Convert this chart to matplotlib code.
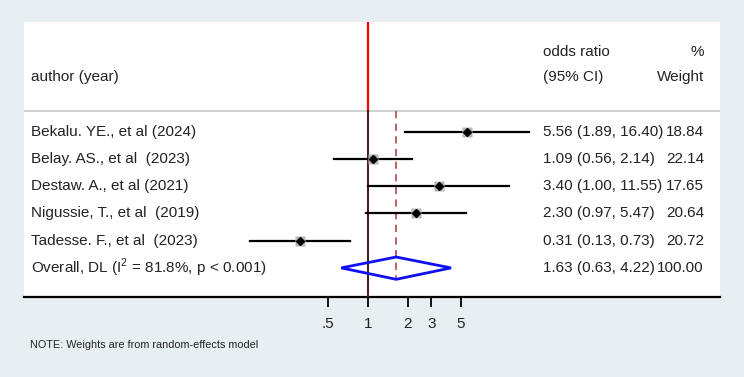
import numpy as np
import matplotlib.pyplot as plt
from matplotlib.patches import Polygon
import matplotlib.transforms as mtransforms

plt.rcParams['font.family'] = ['Liberation Sans', 'DejaVu Sans']
plt.rcParams['mathtext.fontset'] = 'custom'
plt.rcParams['mathtext.rm'] = 'Liberation Sans'

# study data
authors = ['Bekalu. YE., et al (2024)', 'Belay. AS., et al  (2023)',
           'Destaw. A., et al (2021)', 'Nigussie, T., et al  (2019)',
           'Tadesse. F., et al  (2023)']
odds = [5.56, 1.09, 3.40, 2.30, 0.31]
lower = [1.89, 0.56, 1.00, 0.97, 0.13]
upper = [16.40, 2.14, 11.55, 5.47, 0.73]
weights = [18.84, 22.14, 17.65, 20.64, 20.72]

overall_label = 'Overall, DL (I$^{2}$ = 81.8%, p < 0.001)'
overall_or = 1.63
overall_lo = 0.63
overall_hi = 4.22
overall_w = 100.00

tick_vals = [0.5, 1, 2, 3, 5]
tick_labels = ['.5', '1', '2', '3', '5']

bg = '#e8eff2'
txt = '#222222'
W, H = 744, 377

fig = plt.figure(figsize=(W / 100, H / 100), dpi=100, facecolor=bg)
ax = fig.add_axes([24 / W, 1 - 297 / H, 696 / W, 275 / H])
ax.set_facecolor('white')
ax.set_xscale('log')
ax.set_xlim(np.exp(-5.96), np.exp(6.10))
ax.set_ylim(7.07, -3.04)

rows = np.arange(1, len(authors) + 1)
hdr_y = 0.23
overall_row = len(authors) + 1

# header separator
ax.axhline(hdr_y, color='#c8c8c8', lw=1.2)

# null line: red above header, dark below
ax.plot([1, 1], [-3.04, hdr_y], color='red', lw=1.6, zorder=3)
ax.plot([1, 1], [hdr_y, 7.07], color='#4a1515', lw=1.4, zorder=3)

# overall dashed line
ax.plot([overall_or, overall_or], [hdr_y, overall_row + 0.42],
        color='#b5545c', lw=1.3, ls=(0, (4, 3)), zorder=2)

# study CIs, boxes and point estimates
for r, o, lo, hi, w in zip(rows, odds, lower, upper, weights):
    ax.plot([lo, hi], [r, r], color='black', lw=1.6, zorder=4)
    ax.plot(o, r, marker='s', ms=7.5 * np.sqrt(w / 20), color='#b8b8b8',
            mec='none', zorder=4.5)
    ax.plot(o, r, marker='D', ms=4, color='black', zorder=5)

# overall diamond
diamond = Polygon([[overall_lo, overall_row], [overall_or, overall_row - 0.4],
                   [overall_hi, overall_row], [overall_or, overall_row + 0.42]],
                  closed=True, fill=False, edgecolor='#1010ee', lw=2, zorder=5)
ax.add_patch(diamond)

# text columns
tr = mtransforms.blended_transform_factory(ax.transAxes, ax.transData)
x_auth = (31 - 24) / 696
x_ci = (543 - 24) / 696
x_w = (704 - 24) / 696
fs = 11

ax.text(x_auth, -1, 'author (year)', transform=tr, va='center', fontsize=fs, color=txt)
ax.text(x_ci, -1.95, 'odds ratio', transform=tr, va='center', fontsize=fs, color=txt)
ax.text(x_ci, -1, '(95% CI)', transform=tr, va='center', fontsize=fs, color=txt)
ax.text(x_w, -1.95, '%', transform=tr, va='center', ha='right', fontsize=fs, color=txt)
ax.text(x_w, -1, 'Weight', transform=tr, va='center', ha='right', fontsize=fs, color=txt)

for r, a, o, lo, hi, w in zip(rows, authors, odds, lower, upper, weights):
    ax.text(x_auth, r, a, transform=tr, va='center', fontsize=fs, color=txt)
    ax.text(x_ci, r, '%.2f (%.2f, %.2f)' % (o, lo, hi), transform=tr,
            va='center', fontsize=fs, color=txt)
    ax.text(x_w, r, '%.2f' % w, transform=tr, va='center', ha='right',
            fontsize=fs, color=txt)

ax.text(x_auth, overall_row, overall_label, transform=tr, va='center', fontsize=fs, color=txt)
ax.text(x_ci, overall_row, '%.2f (%.2f, %.2f)' % (overall_or, overall_lo, overall_hi),
        transform=tr, va='center', fontsize=fs, color=txt)
ax.text(x_w, overall_row, '%.2f' % overall_w, transform=tr, va='center', ha='right',
        fontsize=fs, color=txt)

# axis
for s in ['left', 'right', 'top']:
    ax.spines[s].set_visible(False)
ax.spines['bottom'].set_color('black')
ax.spines['bottom'].set_linewidth(1.6)
ax.set_yticks([])
ax.set_xticks(tick_vals)
ax.set_xticklabels(tick_labels)
ax.xaxis.set_minor_locator(plt.NullLocator())
ax.tick_params(axis='x', direction='out', length=7.5, width=1.3, pad=7,
               labelsize=fs, labelcolor=txt)

fig.text(30 / W, 1 - 345 / H, 'NOTE: Weights are from random-effects model',
         va='center', fontsize=7.8, color=txt)

fig.savefig('out.png', dpi=100, facecolor=bg)
